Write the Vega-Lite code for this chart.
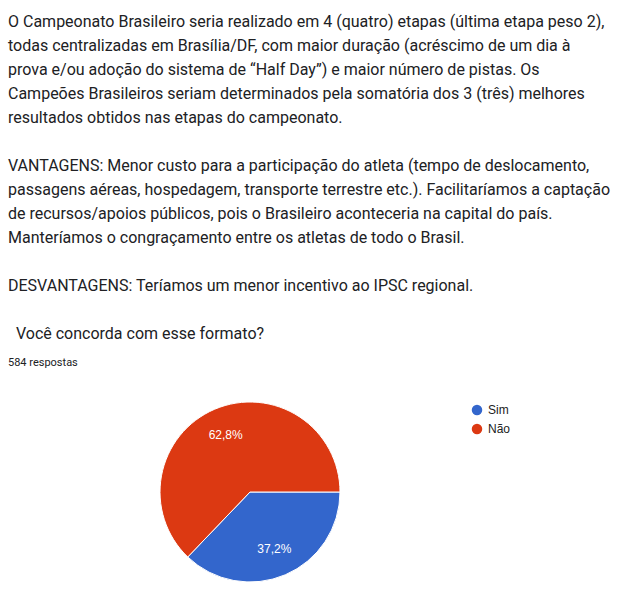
{
  "$schema": "https://vega.github.io/schema/vega-lite/v6.json",
  "width": 484,
  "height": 186,
  "padding": {"left": 8, "top": 14, "right": 0, "bottom": 0},
  "background": "white",
  "config": {
    "view": {"stroke": null},
    "locale": {"number": {"decimal": ",", "thousands": ".", "grouping": [3], "currency": ["R$", ""]}}
  },
  "title": {
    "text": [
      "O Campeonato Brasileiro seria realizado em 4 (quatro) etapas (última etapa peso 2),",
      "todas centralizadas em Brasília/DF, com maior duração (acréscimo de um dia à",
      "prova e/ou adoção do sistema de “Half Day”) e maior número de pistas. Os",
      "Campeões Brasileiros seriam determinados pela somatória dos 3 (três) melhores",
      "resultados obtidos nas etapas do campeonato.",
      "\u200b",
      "VANTAGENS: Menor custo para a participação do atleta (tempo de deslocamento,",
      "passagens aéreas, hospedagem, transporte terrestre etc.). Facilitaríamos a captação",
      "de recursos/apoios públicos, pois o Brasileiro aconteceria na capital do país.",
      "Manteríamos o congraçamento entre os atletas de todo o Brasil.",
      "\u200b",
      "DESVANTAGENS: Teríamos um menor incentivo ao IPSC regional.",
      "\u200b",
      "\u200b\u00a0\u00a0Você concorda com esse formato?"
    ],
    "subtitle": "584 respostas",
    "anchor": "start",
    "frame": "group",
    "font": "Roboto",
    "fontSize": 16,
    "fontWeight": "normal",
    "color": "#202124",
    "lineHeight": 24,
    "subtitleFont": "Roboto",
    "subtitleFontSize": 11,
    "subtitleColor": "#202124",
    "subtitlePadding": 15,
    "offset": 31
  },
  "data": {
    "values": [
      {"resposta": "Sim", "respostas": 217, "pct": 0.372},
      {"resposta": "Não", "respostas": 367, "pct": 0.628}
    ]
  },
  "encoding": {
    "theta": {"field": "respostas", "type": "quantitative", "stack": true, "scale": {"range": [1.5707963, 7.8539816]}},
    "order": {"field": "respostas", "sort": "ascending"},
    "color": {
      "field": "resposta",
      "type": "nominal",
      "scale": {"domain": ["Sim", "Não"], "range": ["#3366cc", "#dc3912"]},
      "legend": {
        "title": null,
        "orient": "none",
        "legendX": 463,
        "legendY": 5,
        "symbolType": "circle",
        "symbolSize": 110,
        "symbolStrokeWidth": 0,
        "labelFont": "Arial",
        "labelFontSize": 12,
        "labelColor": "#222222",
        "rowPadding": 7,
        "labelOffset": 5
      }
    }
  },
  "layer": [
    {"mark": {"type": "arc", "outerRadius": 90, "stroke": "white", "strokeWidth": 1}},
    {
      "mark": {"type": "text", "radius": 62, "fill": "white", "font": "Arial", "fontSize": 12},
      "encoding": {"text": {"field": "pct", "type": "quantitative", "format": ".1%"}}
    }
  ]
}
